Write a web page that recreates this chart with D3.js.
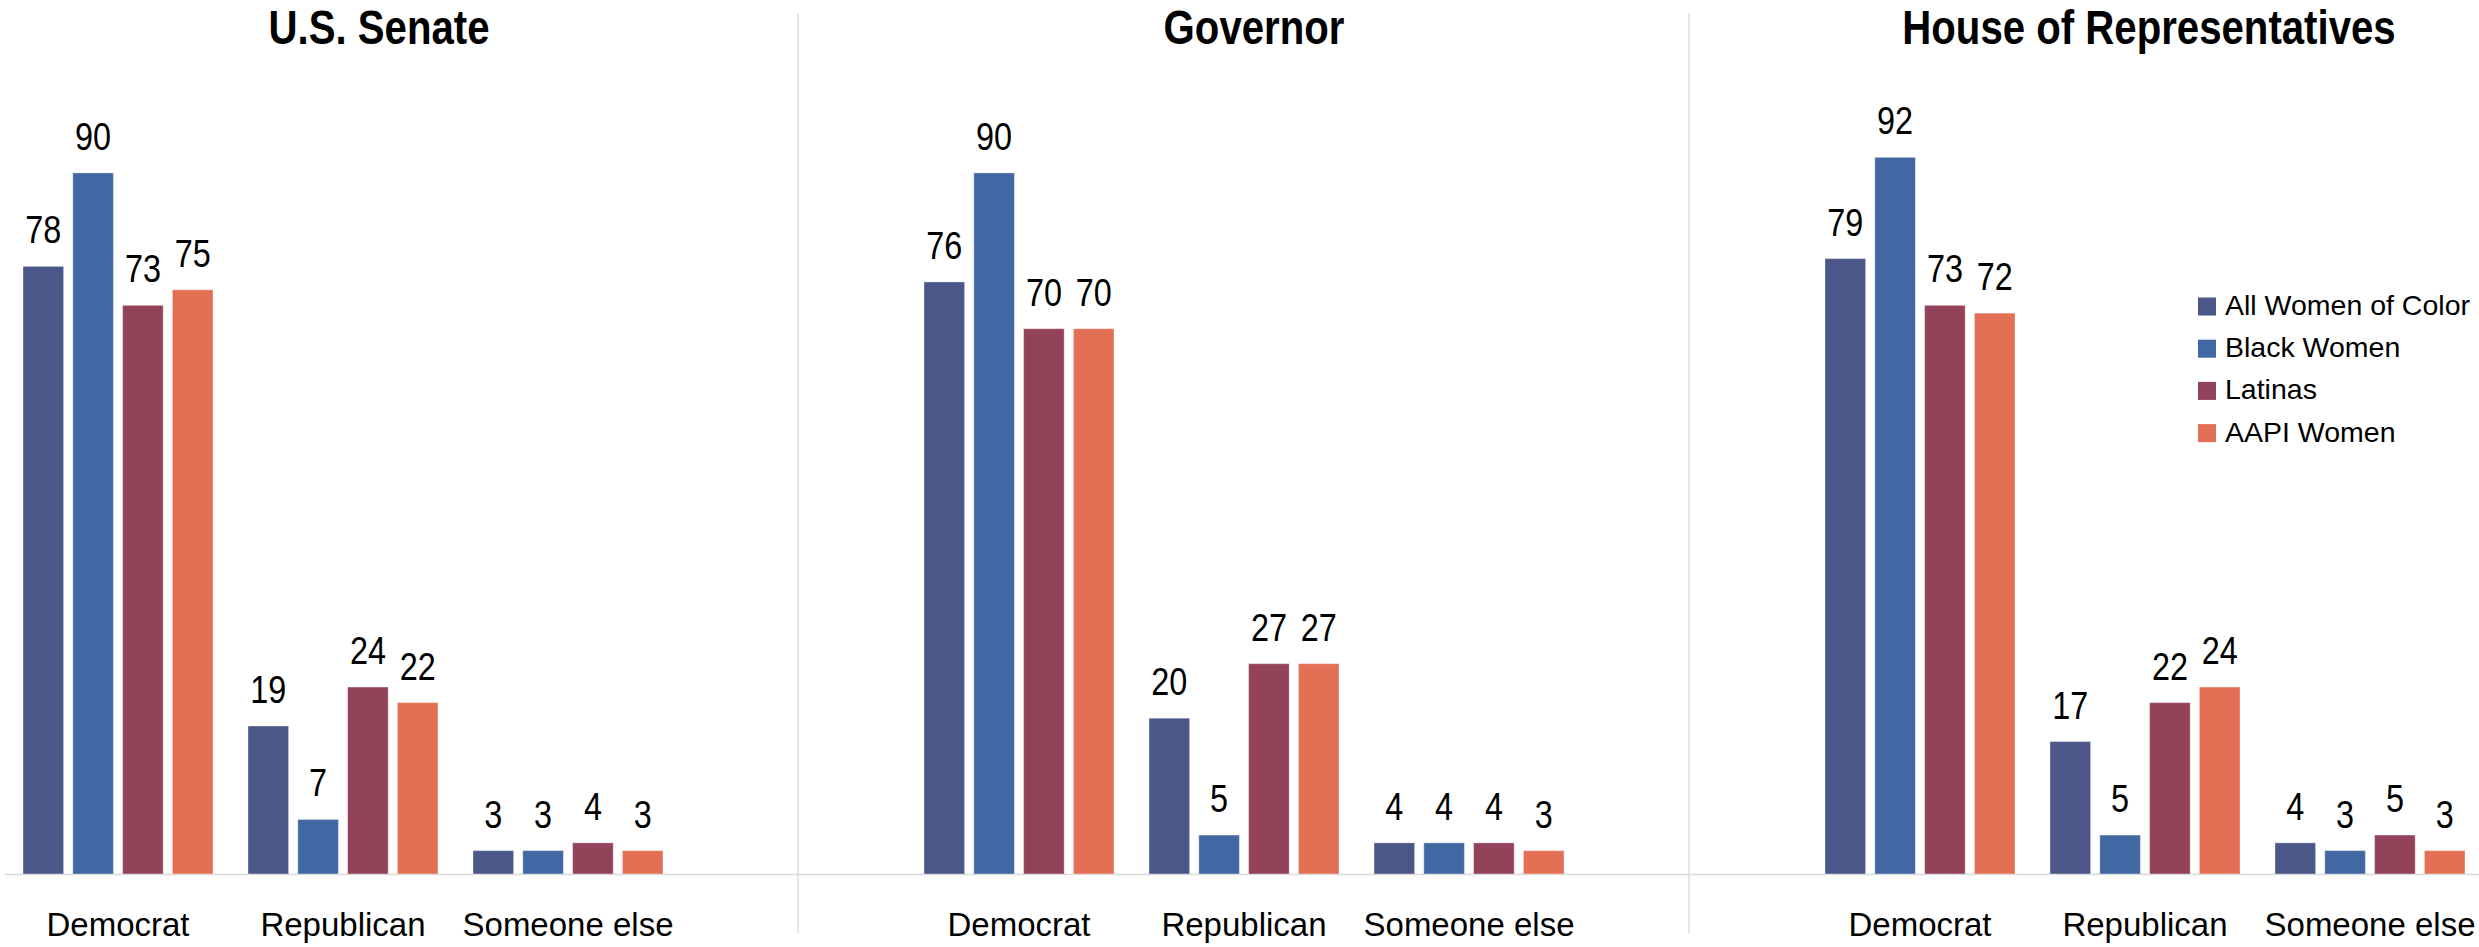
<!DOCTYPE html>
<html>
<head>
<meta charset="utf-8">
<script src="https://cdn.jsdelivr.net/npm/d3@7"></script>
<style>
  html, body { margin: 0; padding: 0; background: #ffffff; }
  svg { display: block; }
</style>
</head>
<body>
<svg id="chart" width="2479" height="947"></svg>
<script>
// Vote choice by office, percent
const offices = ["U.S. Senate", "Governor", "House of Representatives"];
const parties = ["Democrat", "Republican", "Someone else"];
const groups = ["All Women of Color", "Black Women", "Latinas", "AAPI Women"];

const senateValues   = [[78, 90, 73, 75], [19, 7, 24, 22], [3, 3, 4, 3]];
const governorValues = [[76, 90, 70, 70], [20, 5, 27, 27], [4, 4, 4, 3]];
const houseValues    = [[79, 92, 73, 72], [17, 5, 22, 24], [4, 3, 5, 3]];
const officeValues = [senateValues, governorValues, houseValues];

const groupColors = ["#4B5789", "#4168A2", "#924259", "#E37055"];

const svg = d3.select("#chart");

const font = "'Liberation Sans', Arial, sans-serif";
// condensed look for titles and value labels
const squeeze = 0.82;

// panel layout: edges, band range start, title centre
const panels = [
  { left: 0,    right: 798,  r0: 5.5,    titleX: 379 },
  { left: 798,  right: 1689, r0: 906.5,  titleX: 1254 },
  { left: 1689, right: 2479, r0: 1807.5, titleX: 2149 }
];

const baseY = 874;
const y = d3.scaleLinear().domain([0, 100]).range([baseY, 95]);

const color = d3.scaleOrdinal().domain(groups).range(groupColors);

const x1 = d3.scaleBand().domain(groups).range([0, 190]).paddingInner(0.185).paddingOuter(0);

// separators between panels
svg.selectAll("line.sep")
  .data(panels.slice(1))
  .join("line")
  .attr("class", "sep")
  .attr("x1", d => d.left).attr("x2", d => d.left)
  .attr("y1", 13).attr("y2", 933)
  .attr("stroke", "#dcdcdc")
  .attr("stroke-width", 1.5);

panels.forEach((p, i) => {
  const g = svg.append("g");
  const x0 = d3.scaleBand().domain(parties)
    .range([p.r0, p.r0 + 675])
    .paddingInner(35 / 225)
    .paddingOuter(17.5 / 225);

  // title
  g.append("text")
    .attr("transform", `translate(${p.titleX},43.5) scale(${squeeze},1)`)
    .attr("text-anchor", "middle")
    .attr("font-family", font)
    .attr("font-weight", "bold")
    .attr("font-size", 49)
    .attr("fill", "#000")
    .text(offices[i]);

  // baseline
  g.append("line")
    .attr("x1", i === 0 ? 5 : p.left).attr("x2", p.right)
    .attr("y1", baseY + 0.5).attr("y2", baseY + 0.5)
    .attr("stroke", "#d9d9d9")
    .attr("stroke-width", 1.6);

  const rows = parties.map((party, k) => ({
    party,
    values: groups.map((grp, j) => ({ party, grp, v: officeValues[i][k][j] }))
  }));

  const cat = g.selectAll("g.cat")
    .data(rows)
    .join("g")
    .attr("class", "cat")
    .attr("transform", d => `translate(${x0(d.party)},0)`);

  cat.selectAll("rect")
    .data(d => d.values)
    .join("rect")
    .attr("x", d => x1(d.grp))
    .attr("y", d => y(d.v))
    .attr("width", x1.bandwidth())
    .attr("height", d => baseY - y(d.v))
    .attr("fill", d => color(d.grp))
    .attr("stroke", "rgba(255,255,255,0.35)")
    .attr("stroke-width", 1);

  cat.selectAll("text.val")
    .data(d => d.values)
    .join("text")
    .attr("class", "val")
    .attr("transform", d => `translate(${x1(d.grp) + x1.bandwidth() / 2},${y(d.v) - 23}) scale(${squeeze},1)`)
    .attr("text-anchor", "middle")
    .attr("font-family", font)
    .attr("font-size", 39.5)
    .attr("fill", "#000")
    .text(d => d.v);

  // category axis labels
  const axis = d3.axisBottom(x0).tickSize(0).tickPadding(0);
  const ax = g.append("g")
    .attr("transform", `translate(0,${baseY})`)
    .call(axis);
  ax.select(".domain").remove();
  ax.selectAll("text")
    .attr("dy", null)
    .attr("y", 62)
    .attr("font-family", font)
    .attr("font-size", 33)
    .attr("fill", "#000");
});

// legend
const legend = svg.append("g").attr("transform", "translate(2198,297.5)");
const li = legend.selectAll("g")
  .data(groups)
  .join("g")
  .attr("transform", (d, i) => `translate(0,${i * 42.2})`);
li.append("rect")
  .attr("width", 18).attr("height", 18)
  .attr("fill", d => color(d));
li.append("text")
  .attr("x", 27).attr("y", 17.5)
  .attr("font-family", font)
  .attr("font-size", 28.5)
  .attr("fill", "#000")
  .text(d => d);
</script>
</body>
</html>
